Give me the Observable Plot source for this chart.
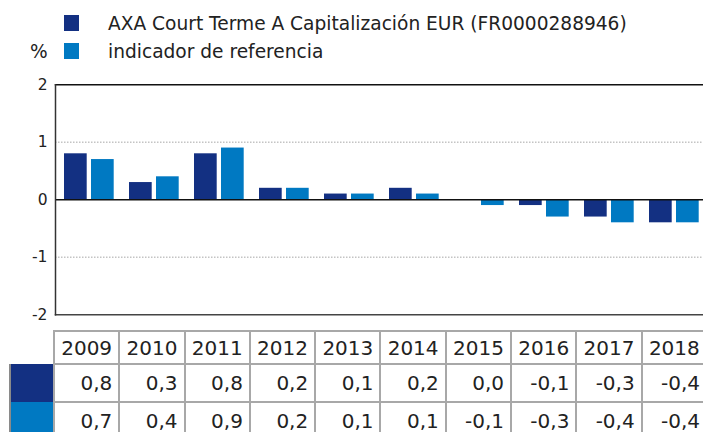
<!DOCTYPE html>
<html>
<head>
<meta charset="utf-8">
<script src="https://cdn.jsdelivr.net/npm/d3@7"></script>
<script src="https://cdn.jsdelivr.net/npm/@observablehq/plot@0.6"></script>
<style>
  html, body { margin: 0; padding: 0; background: #fff; }
  body { width: 703px; height: 432px; position: relative; overflow: hidden; font-family: "DejaVu Sans", sans-serif; color: #222; }
  #legend { position: absolute; left: 0; top: 0; width: 703px; height: 70px; }
  .sw { position: absolute; left: 64px; width: 15px; height: 16px; }
  .lt { position: absolute; left: 108px; font-size: 18.6px; line-height: 18px; white-space: nowrap; }
  #pct { position: absolute; left: 30px; top: 43px; font-size: 18.6px; line-height: 18px; }
  #chart { position: absolute; left: 0; top: 70px; }
  #tblwrap { position: absolute; left: 9px; top: 330px; width: 720px; }
  #tbl { border-collapse: collapse; table-layout: fixed; font-size: 20px; width: 699px; }
  #tbl td { border: 2px solid #a8a8a8; padding: 0 6px 0 0; text-align: right; box-sizing: border-box; width: 65.3px; overflow: hidden; white-space: nowrap; }
  #tbl tr.head td { height: 33px; text-align: center; padding: 0; }
  #tbl tr.val td { height: 38px; }
  #tbl td.swc { width: 44px; border-top: none; border-bottom: none; border-left: 2px solid #8a8a8a; padding: 0; }
  #tbl tr.head td.blank { border: none; }
</style>
</head>
<body>
<div id="legend"></div>
<div id="chart"></div>
<div id="tblwrap"><table id="tbl"></table></div>
<script>
// ---- data ----
const years = ["2009", "2010", "2011", "2012", "2013", "2014", "2015", "2016", "2017", "2018"];
const fundValues = [0.8, 0.3, 0.8, 0.2, 0.1, 0.2, 0.0, -0.1, -0.3, -0.4];
const benchValues = [0.7, 0.4, 0.9, 0.2, 0.1, 0.1, -0.1, -0.3, -0.4, -0.4];
const seriesNames = ["AXA Court Terme A Capitalización EUR (FR0000288946)", "indicador de referencia"];
const seriesColors = ["#133082", "#0079c2"];
const yTicks = [-2, -1, 0, 1, 2];
const unitLabel = "%";

const fmt = v => v.toFixed(1).replace(".", ",");

// ---- legend ----
const legend = document.getElementById("legend");
seriesNames.forEach((name, i) => {
  const sw = document.createElement("div");
  sw.className = "sw";
  sw.style.top = (15 + i * 28) + "px";
  sw.style.background = seriesColors[i];
  legend.appendChild(sw);
  const t = document.createElement("div");
  t.className = "lt";
  t.style.top = (15 + i * 28) + "px";
  t.textContent = name;
  legend.appendChild(t);
});
const pct = document.createElement("div");
pct.id = "pct";
pct.textContent = unitLabel;
legend.appendChild(pct);

// ---- chart ----
const fundRows = years.map((y, i) => ({year: y, value: fundValues[i]}));
const benchRows = years.map((y, i) => ({year: y, value: benchValues[i]}));

const chart = Plot.plot({
  width: 703,
  height: 255,
  marginTop: 14.3,
  marginBottom: 10.7,
  marginLeft: 55,
  marginRight: 0,
  style: {fontFamily: "DejaVu Sans, sans-serif", fontSize: "15.5px", color: "#222", overflow: "visible"},
  x: {domain: years, range: [54, 707], padding: 0, axis: null},
  y: {domain: [-2, 2], ticks: yTicks},
  marks: [
    Plot.ruleY([-1, 1], {stroke: "#c4c4c4", strokeWidth: 1.5, strokeDasharray: "1.5,1.5"}),
    Plot.barY(fundRows, {x: "year", y: "value", fill: seriesColors[0], insetLeft: 8, insetRight: 34.3}),
    Plot.barY(benchRows, {x: "year", y: "value", fill: seriesColors[1], insetLeft: 35, insetRight: 7.3}),
    Plot.ruleY([0], {stroke: "#111", strokeWidth: 1.5}),
    Plot.frame({anchor: "top", stroke: "#111", strokeWidth: 1.5}),
    Plot.frame({anchor: "bottom", stroke: "#444", strokeWidth: 1.5}),
    Plot.frame({anchor: "left", stroke: "#333", strokeWidth: 1.5}),
    Plot.axisY({ticks: yTicks, tickSize: 0, tickPadding: 8, tickFormat: d => String(d).replace("−", "-"), label: null, fill: "#222"})
  ]
});
document.getElementById("chart").appendChild(chart);

// ---- table ----
const tbl = document.getElementById("tbl");
const head = document.createElement("tr");
head.className = "head";
const blank = document.createElement("td");
blank.className = "blank swc";
head.appendChild(blank);
years.forEach(y => { const td = document.createElement("td"); td.textContent = y; head.appendChild(td); });
tbl.appendChild(head);
[fundValues, benchValues].forEach((vals, s) => {
  const tr = document.createElement("tr");
  tr.className = "val";
  const sw = document.createElement("td");
  sw.className = "swc";
  sw.style.background = seriesColors[s];
  tr.appendChild(sw);
  vals.forEach(v => { const td = document.createElement("td"); td.textContent = fmt(v); tr.appendChild(td); });
  tbl.appendChild(tr);
});
</script>
</body>
</html>
